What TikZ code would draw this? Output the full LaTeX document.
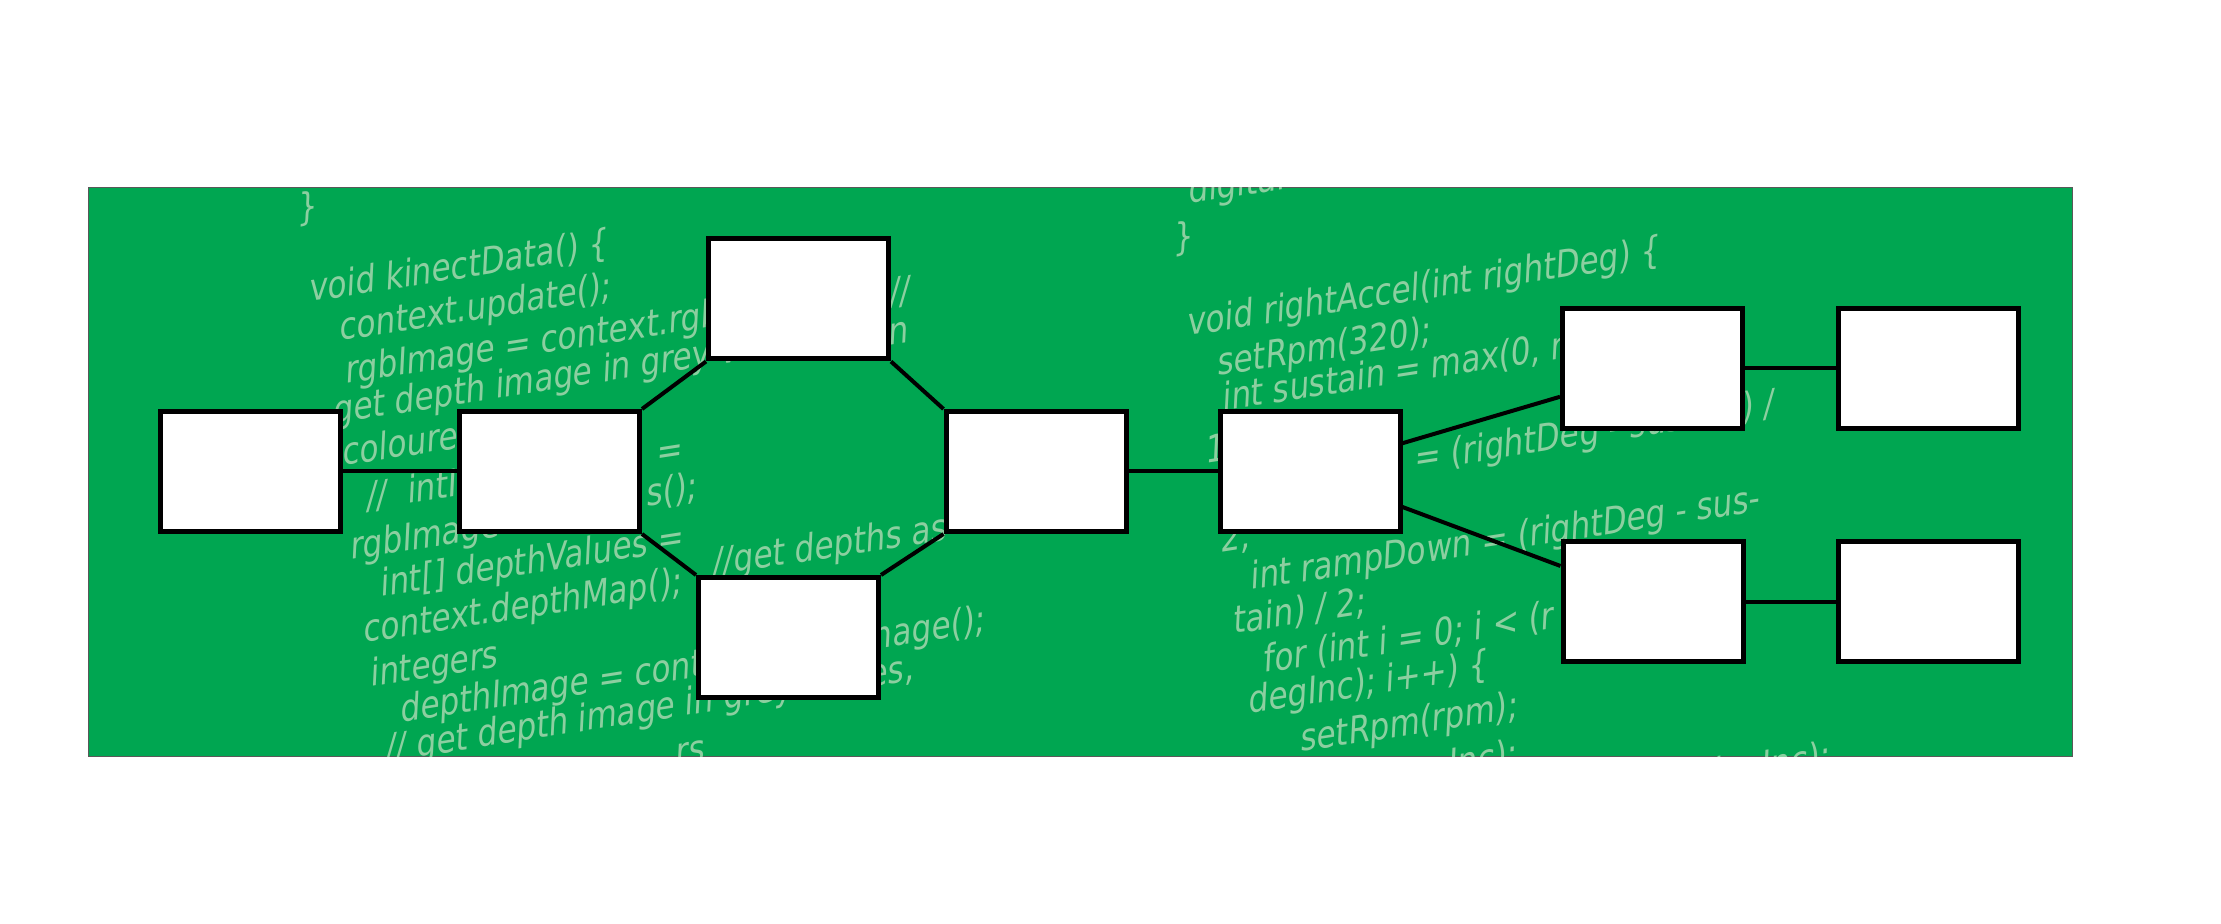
\documentclass[tikz,border=0pt]{standalone}
\usepackage{fontspec}
\newfontfamily\codefont[FakeStretch=0.82]{DejaVu Sans}
\usepackage{tikz}
\definecolor{panelgreen}{RGB}{0,166,81}
\definecolor{codegreen}{RGB}{140,207,160}
\begin{document}
\begin{tikzpicture}[x=0.5pt,y=-0.5pt,
    box/.style={draw,fill=white,line width=2.5pt,minimum width=90pt,minimum height=60pt,inner sep=0pt},
    link/.style={line width=2pt},
    code/.style={text=codegreen,font=\codefont\fontsize{19}{19}\selectfont,anchor=base west,inner sep=0pt,cm={1,0.155,0.05,1,(0,0)}}]
\useasboundingbox (0,0) rectangle (2221,924);
%					Panneau vert :
\draw[draw=gray!70!black,line width=0.5pt,fill=panelgreen] (88,188) rectangle (2072,756);
%					Code en fond :
\begin{scope}
\clip (88,188) rectangle (2072,756);
\node[code] (c1) at (297,222) {\}};
\node[code] (c2) at (309,302) {void kinectData() \{};
\node[code] (c3) at (339,341) {context.update();};
\node[code] (c4) at (345,384) {rgbImage = context.rgbImage();};
\node[code] (c5) at (889,306) {//};
\node[code] (c6) at (333,424) {get depth image in grey values};
\node[code] (c7) at (888,346) {n};
\node[code] (c8) at (342,466) {coloured};
\node[code] (c9) at (366,510) {//~~intImage};
\node[code] (c10) at (656,466) {=};
\node[code] (c11) at (350,560) {rgbImage};
\node[code] (c12) at (646,507) {s();};
\node[code] (c13) at (380,597) {int[] depthValues =};
\node[code] (c14) at (712,576) {//get depths as};
\node[code] (c15) at (363,643) {context.depthMap();};
\node[code] (c16) at (370,687) {integers};
\node[code] (c17) at (400,723) {depthImage = context.depthImage();};
\node[code] (c18) at (385,762) {// get depth image in grey values,};
\node[code] (c19) at (675,766) {rs};
\node[code] (c20) at (1188,204) {digital};
\node[code] (c21) at (1173,252) {\}};
\node[code] (c22) at (1187,336) {void rightAccel(int rightDeg) \{};
\node[code] (c23) at (1217,376) {setRpm(320);};
\node[code] (c24) at (1222,411) {int sustain = max(0, r};
\node[code] (c25) at (1205,464) {1};
\node[code] (c26) at (1392,475) {) = (rightDeg - sustain) /};
\node[code] (c27) at (1220,553) {2;};
\node[code] (c28) at (1250,590) {int rampDown = (rightDeg - sus-};
\node[code] (c29) at (1233,634) {tain) / 2;};
\node[code] (c30) at (1263,673) {for (int i = 0; i < (r};
\node[code] (c31) at (1248,714) {degInc); i++) \{};
\node[code] (c32) at (1300,752) {setRpm(rpm);};
\node[code] (c33) at (1448,777) {Inc);};
\node[code] (c34) at (1702,788) {degInc);};
\end{scope}
%					Boites :
\node[box] (src) at (250,471.5) {};
\node[box] (pre) at (549.5,471.5) {};
\node[box] (up) at (798.5,299) {};
\node[box] (down) at (788.5,637.5) {};
\node[box] (join) at (1036,471.5) {};
\node[box] (ctrl) at (1310,471.5) {};
\node[box] (rtop) at (1652.5,368.5) {};
\node[box] (rtopout) at (1928.5,368.5) {};
\node[box] (rbot) at (1653,601.5) {};
\node[box] (rbotout) at (1928.5,601.5) {};
%					Liaisons :
\draw[link] (src) -- (pre);
\draw[link] (pre.north east) -- (up.south west);
\draw[link] (up.south east) -- (join.north west);
\draw[link] (pre.south east) -- (down.north west);
\draw[link] (down.north east) -- (join.south west);
\draw[link] (join) -- (ctrl);
\draw[link] (ctrl.17) -- (rtop.197);
\draw[link] (ctrl.-21) -- (rbot.159);
\draw[link] (rtop) -- (rtopout);
\draw[link] (rbot) -- (rbotout);
\end{tikzpicture}
\end{document}
